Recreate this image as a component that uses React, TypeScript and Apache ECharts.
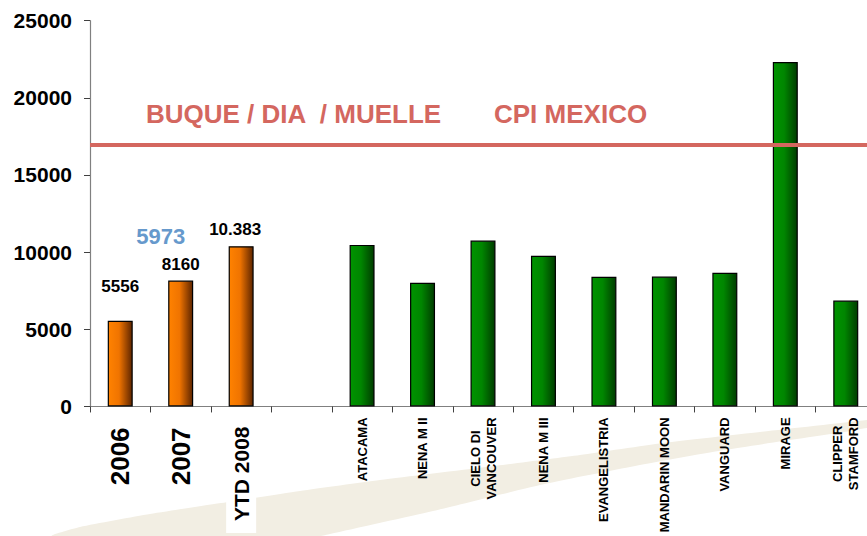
import React, { useEffect, useRef } from "react";
import * as echarts from "echarts";

const categories = [
  "2006",
  "2007",
  "YTD 2008",
  "",
  "ATACAMA",
  "NENA M II",
  "CIELO DI\nVANCOUVER",
  "NENA M III",
  "EVANGELISTRIA",
  "MANDARIN MOON",
  "VANGUARD",
  "MIRAGE",
  "CLIPPER\nSTAMFORD",
];
const values: (number | null)[] = [5556, 8160, 10383, null, 10470, 8010, 10750, 9760, 8400, 8420, 8660, 22320, 6860];
const valueLabels = ["5556", "8160", "10.383"];
const yTicks = { min: 0, max: 25000, interval: 5000 };
const referenceLine = 16930;
const referenceTexts = ["BUQUE / DIA  / MUELLE", "CPI MEXICO"];
const highlightValue = "5973";
const highlightAt = 10990;

const FONT = "'Liberation Sans', Arial, sans-serif";

export default function App() {
  const ref = useRef<HTMLDivElement>(null);
  useEffect(() => {
    if (!ref.current) return;
    const chart = echarts.init(ref.current, null, { renderer: "svg" });
    const orange = new echarts.graphic.LinearGradient(0, 0, 1, 0, [
      { offset: 0, color: "#FF8200" },
      { offset: 0.45, color: "#F07400" },
      { offset: 1, color: "#5E2500" },
    ]);
    const green = new echarts.graphic.LinearGradient(0, 0, 1, 0, [
      { offset: 0, color: "#009400" },
      { offset: 0.45, color: "#008600" },
      { offset: 1, color: "#003C00" },
    ]);
    const xData = categories.map((c, i) => {
      if (i < 2) return { value: c, textStyle: { fontSize: 26, padding: [0, 10, 0, 0] } };
      if (i === 2)
        return {
          value: c,
          textStyle: { fontSize: 21, backgroundColor: "#ffffff", padding: [7, 9, 7, 12] },
        };
      return c;
    });
    const data = values.map((v, i) => {
      const isYear = i < 3;
      return {
        value: v,
        itemStyle: { color: isYear ? orange : green },
        label: isYear
          ? {
              show: true,
              position: "top",
              distance: i === 0 ? 26 : 8,
              offset: i === 2 ? [-6, 0] : [0, 0],
              formatter: valueLabels[i],
              fontSize: 17,
              fontWeight: "bold",
              color: "#000",
              fontFamily: FONT,
            }
          : { show: false },
      };
    });
    chart.setOption({
      animation: false,
      backgroundColor: "#ffffff",
      grid: { left: 90, top: 20.7, width: 786, height: 386, containLabel: false },
      graphic: [
        {
          type: "polygon",
          z: -10,
          silent: true,
          shape: {
            points: [
              [52, 536], [80, 527], [150, 514], [221, 503], [300, 491], [380, 480],
              [486, 467], [580, 455], [663, 443], [760, 432], [867, 420], [880, 419],
              [880, 427], [867, 428], [844, 432], [724, 450], [630, 467], [540, 485], [433, 511],
              [330, 534], [320, 536],
            ],
            smooth: 0.2,
          },
          style: { fill: "#F2EEE3" },
        },
        {
          type: "text",
          left: 146,
          top: 101,
          z: 10,
          style: {
            text: referenceTexts[0],
            fill: "#D4675F",
            font: `bold 26px ${FONT}`,
          },
        },
        {
          type: "text",
          left: 494,
          top: 101,
          z: 10,
          style: {
            text: referenceTexts[1],
            fill: "#D4675F",
            font: `bold 26px ${FONT}`,
          },
        },
      ],
      xAxis: {
        type: "category",
        data: xData,
        boundaryGap: true,
        axisLine: { lineStyle: { color: "#808080", width: 1.2 } },
        axisTick: { show: true, length: 6, alignWithLabel: false, lineStyle: { color: "#404040" } },
        axisLabel: {
          interval: 0,
          rotate: 90,
          margin: 11,
          fontSize: 13,
          fontWeight: "bold",
          color: "#000",
          fontFamily: FONT,
          lineHeight: 16,
          formatter: (v: string) =>
            v.includes("\n") ? v.split("\n").map((s) => `{c|${s}}`).join("\n") : v,
          rich: { c: { align: "center", fontSize: 13, fontWeight: "bold", lineHeight: 16 } },
        },
        splitLine: { show: false },
      },
      yAxis: {
        type: "value",
        min: yTicks.min,
        max: yTicks.max,
        interval: yTicks.interval,
        axisLine: { show: true, lineStyle: { color: "#808080", width: 1.2 } },
        axisTick: { show: true, length: 6, lineStyle: { color: "#404040" } },
        axisLabel: {
          margin: 18,
          fontSize: 21,
          fontWeight: "bold",
          color: "#000",
          fontFamily: FONT,
          formatter: (v: number) => String(v),
        },
        splitLine: { show: false },
      },
      series: [
        {
          type: "bar",
          data,
          barWidth: 25,
          itemStyle: { borderColor: "#000", borderWidth: 1.2 },
          markLine: {
            silent: true,
            symbol: "none",
            label: { show: false },
            lineStyle: { color: "#D4675F", width: 4, type: "solid" },
            data: [{ yAxis: referenceLine }],
          },
          markPoint: {
            silent: true,
            data: [
              {
                coord: [categories[1], highlightAt],
                symbol: "circle",
                symbolSize: 0,
                label: {
                  show: true,
                  position: "inside",
                  offset: [-20, 0],
                  formatter: highlightValue,
                  fontSize: 22,
                  fontWeight: "bold",
                  color: "#6699CC",
                  fontFamily: FONT,
                },
              },
            ],
          },
        },
      ],
    });
    return () => chart.dispose();
  }, []);
  return (
    <div
      ref={ref}
      style={{ position: "fixed", left: 0, top: 0, width: 880, height: 536, background: "#fff" }}
    />
  );
}
